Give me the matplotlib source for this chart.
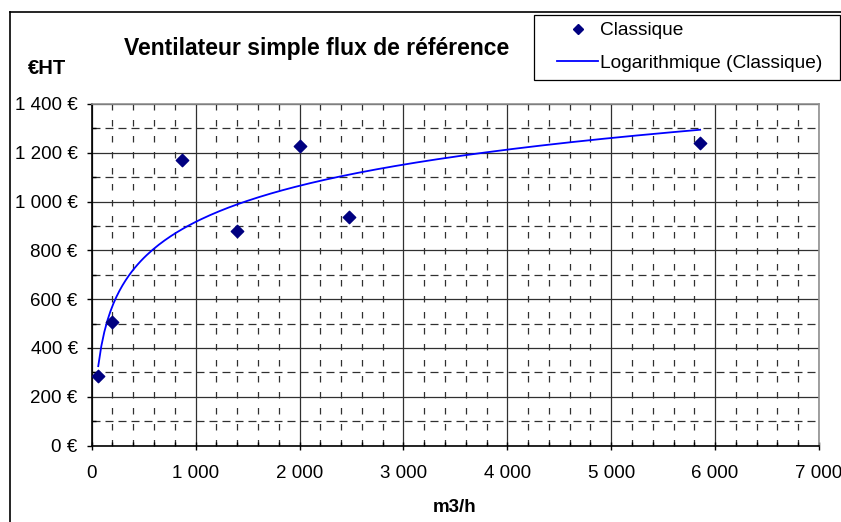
import numpy as np
import matplotlib
matplotlib.use('Agg')
import matplotlib.pyplot as plt
from matplotlib.ticker import MultipleLocator, FuncFormatter
from matplotlib.lines import Line2D
from matplotlib.patches import Rectangle

plt.rcParams['font.family'] = ['Liberation Sans', 'DejaVu Sans']

# data
debit = [63, 198, 871, 1394, 2003, 2477, 5856]        # m3/h
prix = [283, 507, 1169, 880, 1227, 935, 1239]         # EUR HT

title = 'Ventilateur simple flux de référence'
serie_label = 'Classique'
trend_label = 'Logarithmique (Classique)'

# log trendline, like Excel does it
a, b = np.polyfit(np.log(debit), prix, 1)
xt = np.linspace(min(debit), max(debit), 200)
yt = a * np.log(xt) + b

fig = plt.figure(figsize=(8.41, 5.22), dpi=100)
ax = fig.add_axes([91.7/841, 1 - 445.5/522, (819 - 91.7)/841, (445.5 - 104)/522])

def fr(v, pos):
    return '{:,.0f}'.format(v).replace(',', ' ')

ax.set_xlim(0, 7000)
ax.set_ylim(0, 1400)
ax.xaxis.set_major_locator(MultipleLocator(1000))
ax.xaxis.set_minor_locator(MultipleLocator(200))
ax.yaxis.set_major_locator(MultipleLocator(200))
ax.yaxis.set_minor_locator(MultipleLocator(100))
ax.xaxis.set_major_formatter(FuncFormatter(fr))
ax.yaxis.set_major_formatter(FuncFormatter(lambda v, p: fr(v, p) + ' €'))

ax.grid(which='major', color='#303030', lw=0.9)
ax.xaxis.grid(which='minor', color='#303030', lw=0.9, dashes=(5.2, 7.6))
ax.yaxis.grid(which='minor', color='#303030', lw=0.9, dashes=(6.4, 4))
ax.set_axisbelow(True)

ax.tick_params(which='major', direction='inout', length=6, width=1, labelsize=13.5, colors='black')
ax.tick_params(which='minor', direction='in', length=3, width=1)
ax.tick_params(axis='x', which='major', pad=11.3)
ax.tick_params(axis='y', which='major', direction='out', length=3.6, pad=6.5)

for s in ['top', 'right']:
    ax.spines[s].set_color('#909090')
    ax.spines[s].set_linewidth(1.2)
for s in ['left', 'bottom']:
    ax.spines[s].set_color('black')
    ax.spines[s].set_linewidth(1.2)

ax.plot(xt, yt, color='#0000FF', lw=1.3, zorder=3)
ax.scatter(debit, prix, marker='D', s=40, color='#000080', zorder=4)

fig.text(317/841, 1 - 48/522, title, ha='center', va='center', fontsize=16.5, fontweight='bold')
fig.text(47/841, 1 - 68/522, '€HT', ha='center', va='center', fontsize=14.5, fontweight='bold')
fig.text(455/841, 1 - 508/522, 'm3/h', ha='center', va='center', fontsize=13.5, fontweight='bold')

# legend: frame drawn apart, content placed inside it
fig.add_artist(Rectangle((534/841, 1 - 80/522), 306/841, 65/522, transform=fig.transFigure,
                         fill=False, edgecolor='black', lw=0.9))
handles = [Line2D([], [], marker='D', ls='none', color='#000080', markersize=5.5),
           Line2D([], [], color='#0000FF', lw=1.3)]
leg = fig.legend(handles, [serie_label, trend_label], loc='upper left',
                 bbox_to_anchor=(557/841, 1 - 22/522), fontsize=13.8, frameon=False,
                 borderpad=0, labelspacing=0.8, handlelength=2.15, handletextpad=0.1,
                 borderaxespad=0)

# outer chart border (left and top only visible)
fig.add_artist(Line2D([10/841, 10/841], [0, 1 - 12/522], color='black', lw=1.2, transform=fig.transFigure))
fig.add_artist(Line2D([10/841, 1], [1 - 12/522, 1 - 12/522], color='black', lw=1.2, transform=fig.transFigure))

fig.savefig('out.png', dpi=100)
